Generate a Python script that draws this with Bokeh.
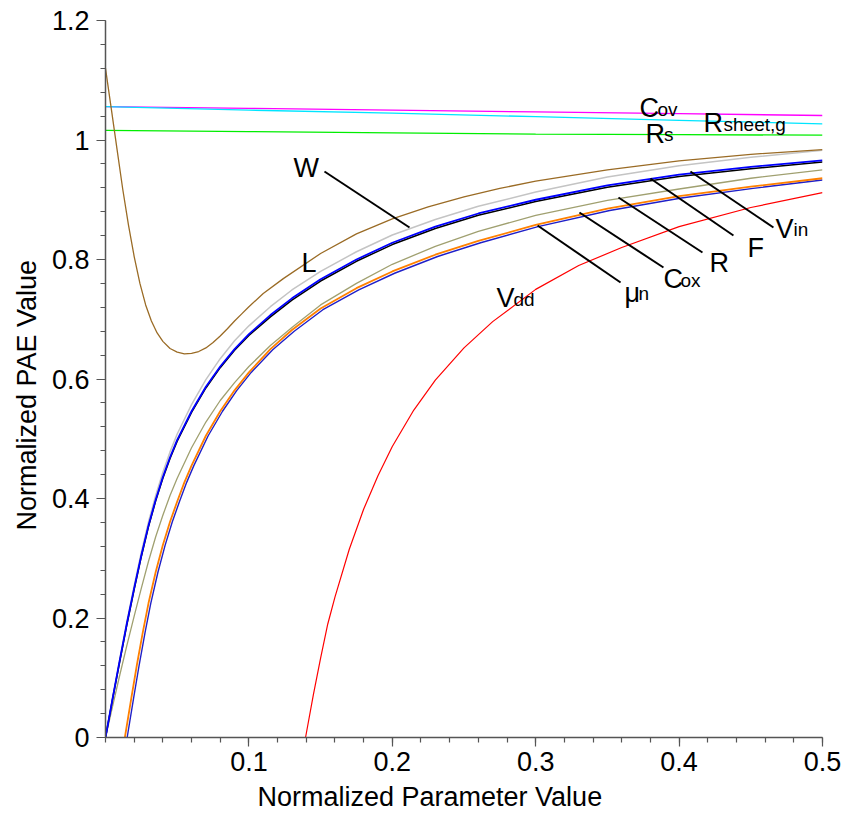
from bokeh.plotting import figure
from bokeh.models import FixedTicker, Range1d, Title
from bokeh.embed import file_html
from bokeh.resources import INLINE
from bokeh.core.properties import value

# ---------------- data ----------------
x_cov = [0.0, 0.1, 0.2, 0.3, 0.4, 0.5]
y_cov = [1.056, 1.053, 1.050, 1.047, 1.044, 1.041]

x_rsheet = [0.0, 0.1, 0.2, 0.3, 0.4, 0.5]
y_rsheet = [1.056, 1.050, 1.045, 1.039, 1.033, 1.027]

x_rs = [0.0, 0.1, 0.2, 0.3, 0.4, 0.5]
y_rs = [1.016, 1.014, 1.012, 1.010, 1.009, 1.008]

x_L = [0.0, 0.004, 0.008, 0.012, 0.016, 0.020, 0.024, 0.028, 0.032, 0.036, 0.040, 0.045, 0.050,
       0.055, 0.060, 0.065, 0.070, 0.075, 0.080, 0.085, 0.090, 0.095, 0.100, 0.110, 0.124, 0.150,
       0.175, 0.200, 0.225, 0.250, 0.275, 0.300, 0.350, 0.400, 0.450, 0.500]
y_L = [1.120, 1.053, 0.985, 0.918, 0.858, 0.805, 0.760, 0.724, 0.697, 0.677, 0.663, 0.651, 0.645,
       0.642, 0.643, 0.646, 0.652, 0.661, 0.672, 0.684, 0.697, 0.709, 0.721, 0.743, 0.768, 0.810,
       0.843, 0.868, 0.888, 0.905, 0.919, 0.931, 0.950, 0.965, 0.976, 0.984]

x_grid = [0.0, 0.005, 0.010, 0.015, 0.020, 0.025, 0.030, 0.035, 0.040, 0.045, 0.050, 0.060, 0.070,
          0.080, 0.090, 0.100, 0.115, 0.130, 0.150, 0.175, 0.200, 0.230, 0.260, 0.300, 0.350, 0.400,
          0.450, 0.500]

x_W = x_grid
y_W = [0.0, 0.067, 0.132, 0.195, 0.254, 0.310, 0.361, 0.405, 0.444, 0.478, 0.508, 0.557, 0.599,
       0.634, 0.664, 0.689, 0.721, 0.749, 0.780, 0.813, 0.841, 0.867, 0.889, 0.913, 0.938, 0.957,
       0.971, 0.983]

x_F = x_grid
y_F = [0.0, 0.066, 0.130, 0.192, 0.250, 0.305, 0.355, 0.398, 0.436, 0.469, 0.498, 0.546, 0.587,
       0.621, 0.650, 0.675, 0.707, 0.735, 0.767, 0.800, 0.828, 0.855, 0.877, 0.900, 0.924, 0.942,
       0.955, 0.966]

x_Vin = x_grid
y_Vin = [0.0, 0.065, 0.128, 0.190, 0.248, 0.303, 0.353, 0.396, 0.434, 0.467, 0.496, 0.544, 0.585,
         0.619, 0.648, 0.673, 0.704, 0.732, 0.764, 0.797, 0.825, 0.852, 0.874, 0.897, 0.921, 0.939,
         0.952, 0.963]

x_R = x_grid
y_R = [0.0, 0.053, 0.105, 0.155, 0.203, 0.250, 0.295, 0.336, 0.372, 0.405, 0.434, 0.485, 0.528,
       0.564, 0.594, 0.621, 0.656, 0.686, 0.724, 0.760, 0.792, 0.822, 0.847, 0.874, 0.899, 0.918,
       0.936, 0.950]

x_Cox = [0.0135, 0.018, 0.022, 0.026, 0.030, 0.035, 0.040, 0.045, 0.050, 0.055, 0.060, 0.070, 0.080,
         0.090, 0.100, 0.115, 0.130, 0.150, 0.175, 0.200, 0.230, 0.260, 0.300, 0.350, 0.400, 0.450, 0.500]
y_Cox = [0.0, 0.066, 0.123, 0.176, 0.225, 0.277, 0.322, 0.361, 0.395, 0.427, 0.455, 0.505, 0.546,
         0.581, 0.611, 0.650, 0.682, 0.718, 0.752, 0.780, 0.808, 0.831, 0.858, 0.885, 0.906, 0.922, 0.936]

x_mun = [0.0151, 0.0196, 0.0236, 0.0276, 0.0316, 0.0366, 0.0416, 0.0466, 0.0516, 0.0566, 0.0616,
         0.0716, 0.0816, 0.0916, 0.1016, 0.1166, 0.1316, 0.1516, 0.1766, 0.2016, 0.2316, 0.2616,
         0.3016, 0.3516, 0.4016, 0.4516, 0.500]
y_mun = [0.0, 0.066, 0.123, 0.176, 0.225, 0.277, 0.322, 0.361, 0.395, 0.427, 0.455, 0.505, 0.546,
         0.581, 0.611, 0.649, 0.680, 0.716, 0.749, 0.777, 0.805, 0.828, 0.855, 0.882, 0.903, 0.919, 0.933]

x_Vdd = [0.1395, 0.145, 0.150, 0.155, 0.160, 0.170, 0.180, 0.190, 0.200, 0.215, 0.230, 0.250, 0.270,
         0.300, 0.330, 0.360, 0.400, 0.450, 0.500]
y_Vdd = [0.0, 0.072, 0.133, 0.190, 0.235, 0.315, 0.382, 0.438, 0.487, 0.548, 0.598, 0.652, 0.696,
         0.750, 0.790, 0.820, 0.855, 0.887, 0.912]

# labels: main letter and subscript part
label_main = ["C", "R", "R", "W", "L", "V", "\u03bc", "C", "R", "F", "V"]
label_x = [0.3724, 0.3766, 0.4170, 0.1311, 0.1367, 0.2727, 0.3619, 0.3891, 0.4212, 0.4477, 0.4672]
label_y = [1.0360, 0.9941, 1.0109, 0.9356, 0.7766, 0.7180, 0.7272, 0.7498, 0.7766, 0.8033, 0.8351]

sub_text = ["ov", "s", "sheet,g", "dd", "n", "ox", "in"]
sub_x = [0.3849, 0.3895, 0.4310, 0.2845, 0.3717, 0.4010, 0.4798]
sub_y = [1.0360, 0.9941, 1.0109, 0.7180, 0.7272, 0.7498, 0.8351]

# pointer lines (W, V_in, F, R, C_ox, mu_n)
ptr_x0 = [0.1527, 0.4079, 0.3800, 0.3577, 0.3305, 0.3013]
ptr_y0 = [0.9473, 0.9473, 0.9356, 0.9038, 0.8787, 0.8569]
ptr_x1 = [0.2120, 0.4658, 0.4379, 0.4163, 0.3891, 0.3592]
ptr_y1 = [0.8536, 0.8536, 0.8402, 0.8117, 0.7866, 0.7615]

x_ticks = [0.1, 0.2, 0.3, 0.4, 0.5]
x_tick_labels = ["0.1", "0.2", "0.3", "0.4", "0.5"]
x_minor = [0.02 * i for i in range(26)]
y_ticks = [0.0, 0.2, 0.4, 0.6, 0.8, 1.0, 1.2]
y_tick_labels = ["0", "0.2", "0.4", "0.6", "0.8", "1", "1.2"]
y_minor = [0.04 * i for i in range(31)]

x_title = "Normalized Parameter Value"
y_title = "Normalized PAE Value"

FONT = "Liberation Sans"

p = figure(width=847, height=826, output_backend="svg", toolbar_location=None,
           x_range=Range1d(0, 0.5), y_range=Range1d(0, 1.2),
           min_border_left=105, min_border_right=25, min_border_top=20, min_border_bottom=89)
p.outline_line_color = None
p.xgrid.visible = False
p.ygrid.visible = False
p.background_fill_color = "white"
p.border_fill_color = "white"

p.xaxis.ticker = FixedTicker(ticks=x_ticks, minor_ticks=x_minor)
p.yaxis.ticker = FixedTicker(ticks=y_ticks, minor_ticks=y_minor)
p.xaxis.major_label_overrides = {t: l for t, l in zip(x_ticks, x_tick_labels)}
p.yaxis.major_label_overrides = {t: l for t, l in zip(y_ticks, y_tick_labels)}

for ax in (p.xaxis, p.yaxis):
    ax.axis_line_color = "#555555"
    ax.axis_line_width = 1.5
    ax.major_tick_line_color = "#555555"
    ax.minor_tick_line_color = "#555555"
    ax.major_tick_line_width = 1.2
    ax.minor_tick_line_width = 1.2
    ax.major_tick_in = 0
    ax.minor_tick_in = 0
    ax.major_tick_out = 9
    ax.minor_tick_out = 5
    ax.major_label_text_font = FONT
    ax.major_label_text_font_size = "27px"
    ax.major_label_text_color = "black"

p.xaxis.major_label_standoff = 5
p.yaxis.major_label_standoff = 7

# axis titles as side-panel titles so they can sit off-centre like the reference
p.add_layout(Title(text=x_title, align="left", offset=152, standoff=12,
                   text_font=FONT, text_font_size="27px", text_font_style="normal",
                   text_color="black"), "below")
p.add_layout(Title(text=y_title, align="left", offset=207, standoff=13,
                   text_font=FONT, text_font_size="27px", text_font_style="normal",
                   text_color="black"), "left")

# curves
p.line(x_cov, y_cov, line_color="#ff00ff", line_width=1.3)
p.line(x_rsheet, y_rsheet, line_color="#00e5ff", line_width=1.3)
p.line(x_rs, y_rs, line_color="#00ee00", line_width=1.3)
p.line(x_Vdd, y_Vdd, line_color="#ff0000", line_width=1.2)
p.line(x_mun, y_mun, line_color="#2020c8", line_width=1.4)
p.line(x_Cox, y_Cox, line_color="#ff8000", line_width=1.8)
p.line(x_R, y_R, line_color="#a0a070", line_width=1.3)
p.line(x_W, y_W, line_color="#c4c4c4", line_width=1.5)
p.line(x_Vin, y_Vin, line_color="#000000", line_width=1.5)
p.line(x_F, y_F, line_color="#0000ff", line_width=1.8)
p.line(x_L, y_L, line_color="#9a6b25", line_width=1.3)

# pointers
p.segment(x0=ptr_x0, y0=ptr_y0, x1=ptr_x1, y1=ptr_y1, line_color="black", line_width=2)

# labels
p.text(x=label_x, y=label_y, text=label_main, text_font=value(FONT), text_font_size="27px",
       text_align="left", text_baseline="alphabetic", text_color="black", y_offset=-10)
p.text(x=sub_x, y=sub_y, text=sub_text, text_font=value(FONT), text_font_size="19px",
       text_align="left", text_baseline="alphabetic", text_color="black", y_offset=-9)

open("out.html", "w").write(file_html(p, INLINE))
